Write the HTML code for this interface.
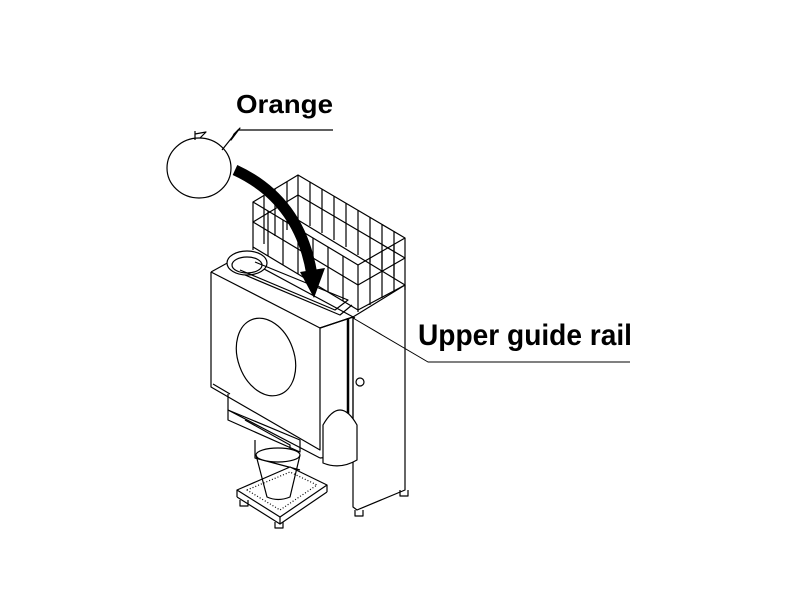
<!DOCTYPE html>
<html><head><style>html,body{margin:0;padding:0;background:#fff}svg{display:block}</style></head>
<body>
<svg width="800" height="600" viewBox="0 0 800 600" xmlns="http://www.w3.org/2000/svg" font-family="Liberation Sans, sans-serif">
<g fill="none" stroke="#000" stroke-width="1.2" stroke-linejoin="round">
<ellipse cx="199" cy="168" rx="32" ry="30" fill="#fff"/>
<path d="M195 140 L195 131 M195 134 L206 132 L200 138"/>
<path d="M222 150 L238 130 L333 130"/>
<path d="M234 134 L240 128 L231 140 Z" fill="#000"/>
<path d="M298 175 L405 238 L358 265 L253 202 Z"/>
<path d="M298 195 L405 258 L358 285 L253 222 Z"/>
<path d="M298 220 L405 285 L358 310 L253 247"/>
<path d="M298 175 V220 M405 238 V290 M358 265 V312 M253 202 V250"/>
<path d="M268 211 V256 M283 220 V265 M298 229 V274 M313 238 V283 M328 247 V292 M343 256 V301"/>
<path d="M310 182 V226 M322 189 V233 M334 196 V240 M346 203 V247 M358 210 V255 M370 217 V262 M382 224 V269 M394 231 V276"/>
<path d="M370 258 V305 M382 251 V298 M394 245 V292"/>
<path d="M264 196 V244 M275 189 V236 M287 182 V230"/>
<path d="M211 272 L240 256 L355 318"/>
<path d="M211 272 L320 328 L353 317"/>
<ellipse cx="247" cy="263" rx="20" ry="12" fill="#fff"/>
<ellipse cx="247" cy="265" rx="15" ry="8"/>
<path d="M240 270 L335 310 L348 300 L255 262"/>
<path d="M245 275 L340 315 L352 305"/>
<path d="M211 272 V387 L320 450 V328"/>
<path d="M213 384 L230 394 M228 394 V410 L320 458"/>
<ellipse cx="266" cy="357" rx="28" ry="40" transform="rotate(-20 266 357)"/>
<path d="M320 328 L353 317 V455 L320 458"/>
<path d="M353 317 L405 285 V490 L357 510 L353 507 V317"/>
<path d="M348 318 V460" stroke-width="2.5"/>
<circle cx="360" cy="382" r="4"/>
<path d="M323 463 V425 Q340 395 357 425 V460 Q340 470 323 463 Z" fill="#fff"/>
<path d="M228 410 L300 440 L300 452 L228 420 Z M245 420 L290 445 L290 452"/>
<path d="M255 440 V458 L300 470"/>
<path d="M237 490 L290 467 L327 485 L280 517 Z" fill="#fff"/>
<path d="M237 497 L280 524 L327 492 M237 490 V497 M280 517 V524 M327 485 V492"/>
<path d="M247 490 L290 472 L317 485 L280 510 Z" stroke-dasharray="1 2"/>
<ellipse cx="278" cy="455" rx="22" ry="7" fill="#fff"/>
<path d="M256 455 L267 497 Q278 502 290 497 L300 455"/>
<path d="M240 500 v6 h8 v-6 M275 522 v6 h8 v-6 M355 510 v6 h8 v-6 M400 490 v6 h8 v-6"/>
<path d="M353 318 L428 362 L630 362" stroke-width="1"/>
</g>
<path d="M235 170 Q300 200 312 275" fill="none" stroke="#000" stroke-width="11"/>
<path d="M300 272 L325 268 L314 298 Z" fill="#000"/>
<text x="236" y="113" font-size="26" font-weight="bold" textLength="97" lengthAdjust="spacingAndGlyphs">Orange</text>
<text x="418" y="345" font-size="30" font-weight="bold" textLength="214" lengthAdjust="spacingAndGlyphs">Upper guide rail</text>
</svg>
</body></html>
